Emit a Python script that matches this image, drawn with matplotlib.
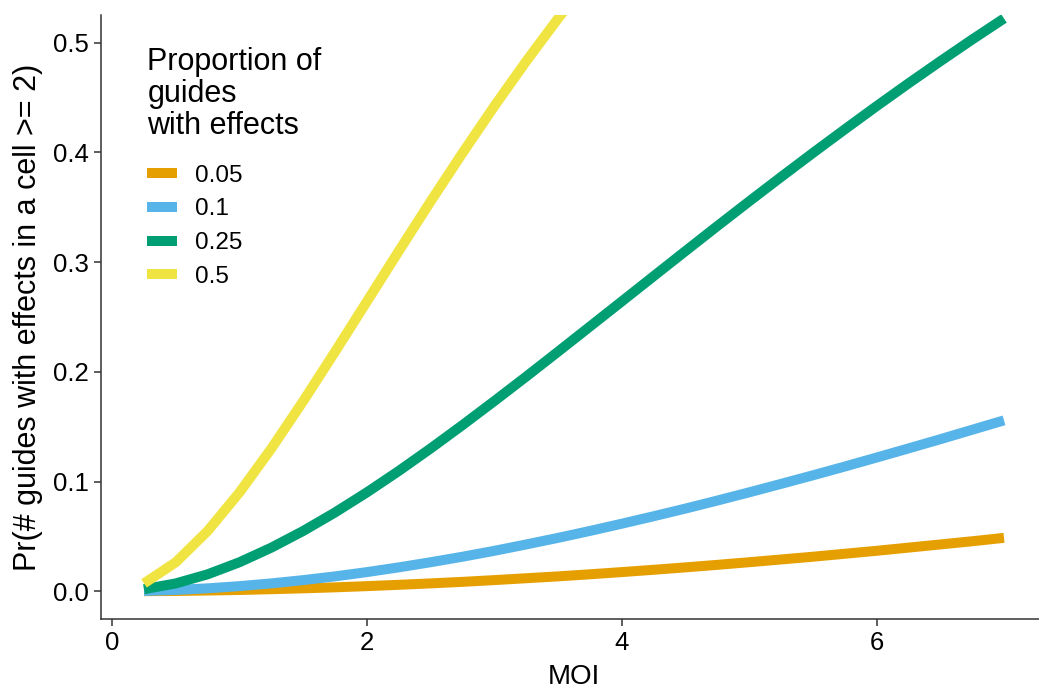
import numpy as np
import matplotlib.pyplot as plt

plt.rcParams['font.family'] = ['Liberation Sans', 'DejaVu Sans']

# MOI grid (0.25 steps)
moi = [0.25, 0.5, 0.75, 1.0, 1.25, 1.5, 1.75, 2.0, 2.25, 2.5, 2.75, 3.0, 3.25, 3.5,
       3.75, 4.0, 4.25, 4.5, 4.75, 5.0, 5.25, 5.5, 5.75, 6.0, 6.25, 6.5, 6.75, 7.0]

# Pr(# guides with effects in a cell >= 2) per proportion of guides with effects
pr_005 = [0.0001, 0.0003, 0.0007, 0.0012, 0.0019, 0.0027, 0.0036, 0.0047, 0.0059,
          0.0072, 0.0086, 0.0102, 0.0119, 0.0136, 0.0155, 0.0175, 0.0196, 0.0218,
          0.0241, 0.0265, 0.0290, 0.0315, 0.0342, 0.0369, 0.0398, 0.0427, 0.0456,
          0.0487]
pr_010 = [0.0003, 0.0012, 0.0027, 0.0047, 0.0072, 0.0102, 0.0136, 0.0175, 0.0218,
          0.0265, 0.0315, 0.0369, 0.0427, 0.0487, 0.0550, 0.0616, 0.0684, 0.0754,
          0.0827, 0.0902, 0.0979, 0.1057, 0.1137, 0.1219, 0.1302, 0.1386, 0.1472,
          0.1558]
pr_025 = [0.0019, 0.0072, 0.0155, 0.0265, 0.0398, 0.0550, 0.0719, 0.0902, 0.1097,
          0.1302, 0.1515, 0.1734, 0.1957, 0.2184, 0.2413, 0.2642, 0.2872, 0.3101,
          0.3329, 0.3554, 0.3776, 0.3995, 0.4210, 0.4422, 0.4629, 0.4831, 0.5029,
          0.5221]
pr_050 = [0.0072, 0.0265, 0.0550, 0.0902, 0.1302, 0.1734, 0.2184, 0.2642, 0.3101,
          0.3554, 0.3995, 0.4422, 0.4831, 0.5221, 0.5591, 0.5940]

labels = ['0.05', '0.1', '0.25', '0.5']
colors = ['#E69F00', '#56B4E9', '#009E73', '#F0E442']

fig = plt.figure(figsize=(10.39, 6.92), dpi=100)
ax = fig.add_axes([0.0972, 0.1059, 1.0077 - 0.0972, 0.9779 - 0.1059])

series = [pr_005, pr_010, pr_025, pr_050]
for vals, lab, col in zip(series, labels, colors):
    ax.plot(moi[:len(vals)], vals, color=col, lw=7.2, label=lab,
            solid_capstyle='butt', solid_joinstyle='miter')

ax.set_xlim(-0.0875, 7.3375)
ax.set_ylim(-0.025, 0.525)
ax.set_xticks([0, 2, 4, 6])
ax.set_yticks([0.0, 0.1, 0.2, 0.3, 0.4, 0.5])
ax.set_yticklabels(['0.0', '0.1', '0.2', '0.3', '0.4', '0.5'])

for side in ['top', 'right']:
    ax.spines[side].set_visible(False)
for side in ['left', 'bottom']:
    ax.spines[side].set_color('#333333')
    ax.spines[side].set_linewidth(1.1)
ax.tick_params(length=5, width=1.1, color='#333333', labelsize=18.5,
               labelcolor='black', pad=4)

ax.set_xlabel('MOI', fontsize=20, labelpad=6)
ax.set_ylabel('Pr(# guides with effects in a cell >= 2)', fontsize=22, labelpad=7)

leg = ax.legend(title='Proportion of\nguides\nwith effects', loc='upper left',
                bbox_to_anchor=(0.026, 0.983), frameon=False, fontsize=17.5,
                title_fontsize=22, handlelength=1.2, handletextpad=0.75,
                labelspacing=0.48, alignment='left')
leg.get_title().set_linespacing(1.08)
leg._legend_box.sep = 17  # gap between title and keys, in points
for h in leg.get_lines():
    h.set_linewidth(7.2)

fig.savefig('out.png', dpi=100)
